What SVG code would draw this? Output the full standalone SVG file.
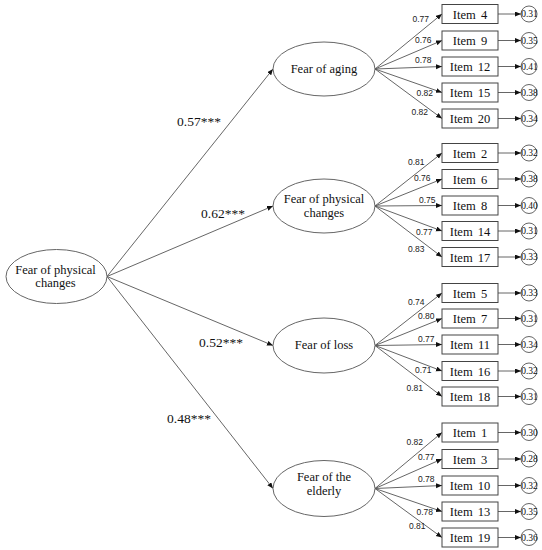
<svg xmlns="http://www.w3.org/2000/svg" width="542" height="550" viewBox="0 0 542 550">
<defs>
<marker id="ah" markerUnits="userSpaceOnUse" markerWidth="7" markerHeight="6" refX="6" refY="2.5" orient="auto">
<path d="M0,0 L6,2.5 L0,5 z" fill="#111"/>
</marker>
<style>
.ln{stroke:#555;stroke-width:0.9;fill:none;marker-end:url(#ah)}
.el{fill:#fff;stroke:#666;stroke-width:1}
.bx{fill:#fff;stroke:#444;stroke-width:1}
.er{fill:#fff;stroke:#555;stroke-width:0.9}
.t{font-family:"Liberation Serif","Times New Roman",serif;font-size:12.5px;fill:#111;text-anchor:middle}
.it{font-family:"Liberation Serif","Times New Roman",serif;font-size:12.5px;fill:#111;text-anchor:middle;word-spacing:2px}
.pc{font-family:"Liberation Serif","Times New Roman",serif;font-size:13.5px;fill:#111}
.ld{font-family:"Liberation Sans",Arial,sans-serif;font-size:8.5px;fill:#222}
.ev{font-family:"Liberation Serif","Times New Roman",serif;font-size:9.5px;fill:#111;text-anchor:middle}
</style>
</defs>
<rect width="542" height="550" fill="#fff"/>

<g id="connectors">
<!-- main paths -->
<line class="ln" x1="107" y1="276.5" x2="273" y2="69"/>
<line class="ln" x1="107" y1="276.5" x2="273" y2="206"/>
<line class="ln" x1="107" y1="276.5" x2="273" y2="345.5"/>
<line class="ln" x1="107" y1="276.5" x2="273" y2="488.5"/>
<!-- group 1 -->
<line class="ln" x1="375" y1="69" x2="442" y2="14"/>
<line class="ln" x1="375" y1="69" x2="442" y2="40.5"/>
<line class="ln" x1="375" y1="69" x2="442" y2="66.5"/>
<line class="ln" x1="375" y1="69" x2="442" y2="92.5"/>
<line class="ln" x1="375" y1="69" x2="442" y2="118.5"/>
<!-- group 2 -->
<line class="ln" x1="375" y1="206" x2="442" y2="153"/>
<line class="ln" x1="375" y1="206" x2="442" y2="179"/>
<line class="ln" x1="375" y1="206" x2="442" y2="205.5"/>
<line class="ln" x1="375" y1="206" x2="442" y2="231"/>
<line class="ln" x1="375" y1="206" x2="442" y2="257"/>
<!-- group 3 -->
<line class="ln" x1="375" y1="345.5" x2="442" y2="293"/>
<line class="ln" x1="375" y1="345.5" x2="442" y2="318.5"/>
<line class="ln" x1="375" y1="345.5" x2="442" y2="344.5"/>
<line class="ln" x1="375" y1="345.5" x2="442" y2="371"/>
<line class="ln" x1="375" y1="345.5" x2="442" y2="396.5"/>
<!-- group 4 -->
<line class="ln" x1="375" y1="488.5" x2="442" y2="432.5"/>
<line class="ln" x1="375" y1="488.5" x2="442" y2="459"/>
<line class="ln" x1="375" y1="488.5" x2="442" y2="485.5"/>
<line class="ln" x1="375" y1="488.5" x2="442" y2="511.5"/>
<line class="ln" x1="375" y1="488.5" x2="442" y2="537.5"/>
<!-- error arrows -->
<line class="ln" x1="498" y1="14" x2="521" y2="14"/>
<line class="ln" x1="498" y1="40.5" x2="521" y2="40.5"/>
<line class="ln" x1="498" y1="66.5" x2="521" y2="66.5"/>
<line class="ln" x1="498" y1="92.5" x2="521" y2="92.5"/>
<line class="ln" x1="498" y1="118.5" x2="521" y2="118.5"/>
<line class="ln" x1="498" y1="153" x2="521" y2="153"/>
<line class="ln" x1="498" y1="179" x2="521" y2="179"/>
<line class="ln" x1="498" y1="205.5" x2="521" y2="205.5"/>
<line class="ln" x1="498" y1="231" x2="521" y2="231"/>
<line class="ln" x1="498" y1="257" x2="521" y2="257"/>
<line class="ln" x1="498" y1="293" x2="521" y2="293"/>
<line class="ln" x1="498" y1="318.5" x2="521" y2="318.5"/>
<line class="ln" x1="498" y1="344.5" x2="521" y2="344.5"/>
<line class="ln" x1="498" y1="371" x2="521" y2="371"/>
<line class="ln" x1="498" y1="396.5" x2="521" y2="396.5"/>
<line class="ln" x1="498" y1="432.5" x2="521" y2="432.5"/>
<line class="ln" x1="498" y1="459" x2="521" y2="459"/>
<line class="ln" x1="498" y1="485.5" x2="521" y2="485.5"/>
<line class="ln" x1="498" y1="511.5" x2="521" y2="511.5"/>
<line class="ln" x1="498" y1="537.5" x2="521" y2="537.5"/>
<!-- path coefficients -->
<text class="pc" x="177" y="126">0.57***</text>
<text class="pc" x="201" y="218">0.62***</text>
<text class="pc" x="199" y="347">0.52***</text>
<text class="pc" x="167" y="423">0.48***</text>
<!-- loadings -->
<text class="ld" x="412.5" y="21.5">0.77</text>
<text class="ld" x="415" y="43">0.76</text>
<text class="ld" x="415" y="63">0.78</text>
<text class="ld" x="416.5" y="96">0.82</text>
<text class="ld" x="411.5" y="115">0.82</text>
<text class="ld" x="408" y="165">0.81</text>
<text class="ld" x="414" y="180.5">0.76</text>
<text class="ld" x="419" y="203">0.75</text>
<text class="ld" x="416" y="234.5">0.77</text>
<text class="ld" x="408" y="251.5">0.83</text>
<text class="ld" x="408" y="305">0.74</text>
<text class="ld" x="418" y="319">0.80</text>
<text class="ld" x="418" y="342">0.77</text>
<text class="ld" x="415" y="372.5">0.71</text>
<text class="ld" x="406.5" y="390.5">0.81</text>
<text class="ld" x="406.5" y="445">0.82</text>
<text class="ld" x="418" y="460">0.77</text>
<text class="ld" x="418" y="481.5">0.78</text>
<text class="ld" x="416.5" y="515">0.78</text>
<text class="ld" x="409" y="529">0.81</text>
</g>

<g id="fear-physical-changes-main">
<ellipse class="el" cx="56.5" cy="276.5" rx="50.5" ry="27"/>
<text class="t" x="55.5" y="274.3">Fear of physical</text>
<text class="t" x="55.5" y="287">changes</text>
</g>

<g id="fear-of-aging">
<ellipse class="el" cx="324" cy="69" rx="51" ry="27"/>
<text class="t" x="324" y="72.5">Fear of aging</text>
</g>
<g id="fear-of-physical-changes">
<ellipse class="el" cx="324" cy="206" rx="51" ry="27"/>
<text class="t" x="324" y="203.3">Fear of physical</text>
<text class="t" x="324" y="216.7">changes</text>
</g>
<g id="fear-of-loss">
<ellipse class="el" cx="324" cy="345.5" rx="51" ry="27.5"/>
<text class="t" x="324" y="349">Fear of loss</text>
</g>
<g id="fear-of-the-elderly">
<ellipse class="el" cx="324" cy="488.5" rx="51" ry="28"/>
<text class="t" x="324" y="480.7">Fear of the</text>
<text class="t" x="324" y="495">elderly</text>
</g>

<g id="item4"><rect class="bx" x="442" y="4.5" width="56" height="19"/><text class="it" x="470" y="18.5">Item 4</text></g>
<g id="item9"><rect class="bx" x="442" y="31" width="56" height="19"/><text class="it" x="470" y="45">Item 9</text></g>
<g id="item12"><rect class="bx" x="442" y="57" width="56" height="19"/><text class="it" x="470" y="71">Item 12</text></g>
<g id="item15"><rect class="bx" x="442" y="83" width="56" height="19"/><text class="it" x="470" y="97">Item 15</text></g>
<g id="item20"><rect class="bx" x="442" y="109" width="56" height="19"/><text class="it" x="470" y="123">Item 20</text></g>

<g id="item2"><rect class="bx" x="442" y="143.5" width="56" height="19"/><text class="it" x="470" y="157.5">Item 2</text></g>
<g id="item6"><rect class="bx" x="442" y="169.5" width="56" height="19"/><text class="it" x="470" y="183.5">Item 6</text></g>
<g id="item8"><rect class="bx" x="442" y="196" width="56" height="19"/><text class="it" x="470" y="210">Item 8</text></g>
<g id="item14"><rect class="bx" x="442" y="221.5" width="56" height="19"/><text class="it" x="470" y="235.5">Item 14</text></g>
<g id="item17"><rect class="bx" x="442" y="247.5" width="56" height="19"/><text class="it" x="470" y="261.5">Item 17</text></g>

<g id="item5"><rect class="bx" x="442" y="283.5" width="56" height="19"/><text class="it" x="470" y="297.5">Item 5</text></g>
<g id="item7"><rect class="bx" x="442" y="309" width="56" height="19"/><text class="it" x="470" y="323">Item 7</text></g>
<g id="item11"><rect class="bx" x="442" y="335" width="56" height="19"/><text class="it" x="470" y="349">Item 11</text></g>
<g id="item16"><rect class="bx" x="442" y="361.5" width="56" height="19"/><text class="it" x="470" y="375.5">Item 16</text></g>
<g id="item18"><rect class="bx" x="442" y="387" width="56" height="19"/><text class="it" x="470" y="401">Item 18</text></g>

<g id="item1"><rect class="bx" x="442" y="423" width="56" height="19"/><text class="it" x="470" y="437">Item 1</text></g>
<g id="item3"><rect class="bx" x="442" y="449.5" width="56" height="19"/><text class="it" x="470" y="463.5">Item 3</text></g>
<g id="item10"><rect class="bx" x="442" y="476" width="56" height="19"/><text class="it" x="470" y="490">Item 10</text></g>
<g id="item13"><rect class="bx" x="442" y="502" width="56" height="19"/><text class="it" x="470" y="516">Item 13</text></g>
<g id="item19"><rect class="bx" x="442" y="528" width="56" height="19"/><text class="it" x="470" y="542">Item 19</text></g>

<g id="e4"><circle class="er" cx="529" cy="14" r="8"/><text class="ev" x="529.5" y="17.3">0.31</text></g>
<g id="e9"><circle class="er" cx="529" cy="40.5" r="8"/><text class="ev" x="529.5" y="43.8">0.35</text></g>
<g id="e12"><circle class="er" cx="529" cy="66.5" r="8"/><text class="ev" x="529.5" y="69.8">0.41</text></g>
<g id="e15"><circle class="er" cx="529" cy="92.5" r="8"/><text class="ev" x="529.5" y="95.8">0.38</text></g>
<g id="e20"><circle class="er" cx="529" cy="118.5" r="8"/><text class="ev" x="529.5" y="121.8">0.34</text></g>
<g id="e2"><circle class="er" cx="529" cy="153" r="8"/><text class="ev" x="529.5" y="156.3">0.32</text></g>
<g id="e6"><circle class="er" cx="529" cy="179" r="8"/><text class="ev" x="529.5" y="182.3">0.38</text></g>
<g id="e8"><circle class="er" cx="529" cy="205.5" r="8"/><text class="ev" x="529.5" y="208.8">0.40</text></g>
<g id="e14"><circle class="er" cx="529" cy="231" r="8"/><text class="ev" x="529.5" y="234.3">0.31</text></g>
<g id="e17"><circle class="er" cx="529" cy="257" r="8"/><text class="ev" x="529.5" y="260.3">0.33</text></g>
<g id="e5"><circle class="er" cx="529" cy="293" r="8"/><text class="ev" x="529.5" y="296.3">0.33</text></g>
<g id="e7"><circle class="er" cx="529" cy="318.5" r="8"/><text class="ev" x="529.5" y="321.8">0.31</text></g>
<g id="e11"><circle class="er" cx="529" cy="344.5" r="8"/><text class="ev" x="529.5" y="347.8">0.34</text></g>
<g id="e16"><circle class="er" cx="529" cy="371" r="8"/><text class="ev" x="529.5" y="374.3">0.32</text></g>
<g id="e18"><circle class="er" cx="529" cy="396.5" r="8"/><text class="ev" x="529.5" y="399.8">0.31</text></g>
<g id="e1"><circle class="er" cx="529" cy="432.5" r="8"/><text class="ev" x="529.5" y="435.8">0.30</text></g>
<g id="e3"><circle class="er" cx="529" cy="459" r="8"/><text class="ev" x="529.5" y="462.3">0.28</text></g>
<g id="e10"><circle class="er" cx="529" cy="485.5" r="8"/><text class="ev" x="529.5" y="488.8">0.32</text></g>
<g id="e13"><circle class="er" cx="529" cy="511.5" r="8"/><text class="ev" x="529.5" y="514.8">0.35</text></g>
<g id="e19"><circle class="er" cx="529" cy="537.5" r="8"/><text class="ev" x="529.5" y="540.8">0.36</text></g>
</svg>
